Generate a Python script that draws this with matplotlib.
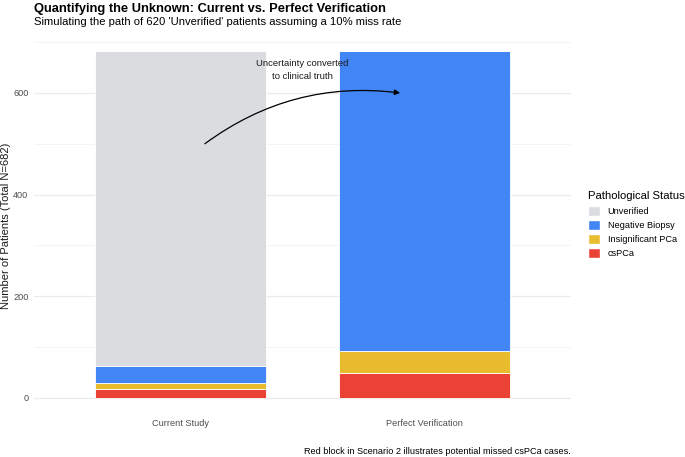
import matplotlib
matplotlib.use("Agg")
import matplotlib.pyplot as plt
import numpy as np

plt.rcParams['font.family'] = ['Liberation Sans', 'DejaVu Sans']

scenarios = ["Current Study", "Perfect Verification"]
statuses = ["Unverified", "Negative Biopsy", "Insignificant PCa", "csPCa"]
# stacked from bottom: csPCa, Insignificant, Negative, Unverified
cspca = [17, 48]
insignificant = [11, 43]
negative = [34, 591]
unverified = [620, 0]
colors = {"Unverified": "#DADCE0", "Negative Biopsy": "#4285F4",
          "Insignificant PCa": "#E9BC30", "csPCa": "#EA4335"}

W, H = 685, 457
fig = plt.figure(figsize=(W / 100, H / 100), dpi=100)
ax = fig.add_axes([34 / W, 1 - 415 / H, (571 - 34) / W, (415 - 34) / H])

x = np.arange(1, len(scenarios) + 1)
stack = [("csPCa", cspca), ("Insignificant PCa", insignificant),
         ("Negative Biopsy", negative), ("Unverified", unverified)]
bottom = np.zeros(len(x))
for name, vals in stack:
    vals = np.array(vals, dtype=float)
    ax.bar(x, vals, 0.7, bottom=bottom, color=colors[name],
           edgecolor="white", linewidth=0.6, zorder=3)
    bottom += vals

total = bottom.max()
ax.set_xlim(0.4, 2.6)
ax.set_ylim(-0.05 * total, total * 1.05)
ax.set_xticks(x)
ax.set_xticklabels(scenarios)
ax.set_yticks([0, 200, 400, 600])
ax.set_yticks([100, 300, 500, 700], minor=True)
ax.tick_params(axis="both", length=0, colors="#4d4d4d", labelsize=6.6)
ax.tick_params(axis="x", pad=3)
ax.tick_params(axis="y", pad=4)
ax.tick_params(which="minor", length=0)
ax.grid(axis="y", which="major", color="#ebebeb", linewidth=0.9, zorder=0)
ax.grid(axis="y", which="minor", color="#f2f2f2", linewidth=0.6, zorder=0)
for s in ax.spines.values():
    s.set_visible(False)

fig.text(6 / W, 1 - 226 / H, "Number of Patients (Total N=682)", fontsize=8.0,
         color="#1a1a1a", rotation=90, ha="center", va="center")

ax.annotate("", xy=(1.9, 600), xytext=(1.1, 500),
            arrowprops=dict(arrowstyle="-|>", color="black", lw=0.9,
                            connectionstyle="arc3,rad=-0.2",
                            mutation_scale=8, shrinkA=0, shrinkB=0), zorder=5)
ax.text(1.5, 645, "Uncertainty converted\nto clinical truth", ha="center", va="center",
        fontsize=6.8, color="#1a1a1a", linespacing=1.5, zorder=5)

fig.text(34 / W, 1 - 9 / H, "Quantifying the Unknown: Current vs. Perfect Verification",
         fontsize=9.3, fontweight="bold", ha="left", va="center")
fig.text(34 / W, 1 - 22 / H, "Simulating the path of 620 'Unverified' patients assuming a 10% miss rate",
         fontsize=8.1, ha="left", va="center")
fig.text(571 / W, 1 - 451 / H, "Red block in Scenario 2 illustrates potential missed csPCa cases.",
         fontsize=6.6, ha="right", va="center")

# legend
handles = [plt.Rectangle((0, 0), 1, 1, facecolor=colors[s], edgecolor="white") for s in statuses]
leg = fig.legend(handles, statuses, title="Pathological Status", loc="upper left",
                 bbox_to_anchor=(582 / W, 1 - 185 / H), frameon=False, fontsize=6.6,
                 title_fontsize=8.1, handlelength=1.3, handleheight=1.3,
                 handletextpad=0.8, labelspacing=0.45, alignment="left",
                 borderpad=0.2)

fig.savefig("out.png", dpi=100)
